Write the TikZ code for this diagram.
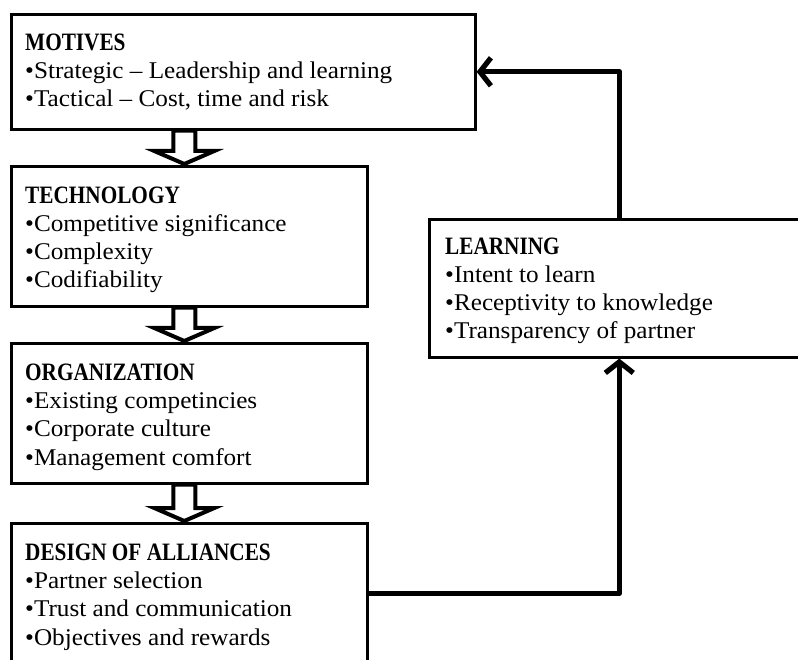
\documentclass[tikz,border=0pt]{standalone}
\usepackage{fontspec}
\setmainfont{Liberation Serif}[FakeStretch=1.05]
\newfontface\headfont{Liberation Serif Bold}[FakeStretch=0.85]
\newcommand\heading[1]{{\headfont\fontsize{25}{28.3}\selectfont #1}}
\usetikzlibrary{arrows.meta,calc,shadows}

% hollow block arrow pointing down from one box to the next
\newcommand\downblock[2]{%
  \draw[hollow] let \p1=(#1.south), \p2=(#2.north) in
    (\x2-16pt,\y1) -- (\x2-16pt,\y2+14pt) -- (\x2-35pt,\y2+14pt) --
    (\x2-5pt,\y2+1pt) -- (\x2+25pt,\y2+14pt) -- (\x2+6pt,\y2+14pt) --
    (\x2+6pt,\y1) -- cycle;}

\begin{document}
\begin{tikzpicture}[x=1pt,y=-1pt,
  box/.style={draw=black, line width=2.6pt, fill=white, rectangle,
    anchor=north west, inner sep=0pt,
    drop shadow={shadow xshift=1.5pt, shadow yshift=-1.5pt, opacity=0.2}},
  % multi-line text: the base anchor sits on the last line
  txt/.style={anchor=base west, inner sep=0pt, align=left,
    font=\fontsize{24}{28.3}\selectfont},
  hollow/.style={draw=black, fill=white, line width=4pt, line join=miter},
  feedback/.style={draw=black, line width=5.2pt, line join=round,
    -{Straight Barb[length=11pt,width=28pt]}}]
\useasboundingbox (0,0) rectangle (798,660);
\clip (0,0) rectangle (798,660);

% boxes
\node[box, minimum width=464pt, minimum height=115pt] (motives) at (10,13) {};
\node[box, minimum width=356pt, minimum height=140pt] (tech) at (10,165) {};
\node[box, minimum width=356pt, minimum height=140pt] (org) at (10,342) {};
\node[box, minimum width=356pt, minimum height=140pt] (design) at (10,522) {};
\node[box, minimum width=380pt, minimum height=138pt] (learning) at (428,218) {};

% box contents
\node[txt] (motivesText) at (25,107)
  {\heading{MOTIVES}\\•Strategic – Leadership and learning\\•Tactical – Cost, time and risk};
\node[txt] (techText) at (25,288)
  {\heading{TECHNOLOGY}\\•Competitive significance\\•Complexity\\•Codifiability};
\node[txt] (orgText) at (25,465)
  {\heading{ORGANIZATION}\\•Existing competincies\\•Corporate culture\\•Management comfort};
\node[txt] (designText) at (25,645)
  {\heading{DESIGN OF ALLIANCES}\\•Partner selection\\•Trust and communication\\•Objectives and rewards};
\node[txt] (learningText) at (445,339)
  {\heading{LEARNING}\\•Intent to learn\\•Receptivity to knowledge\\•Transparency of partner};

% flow down the chain
\downblock{motives}{tech}
\downblock{tech}{org}
\downblock{org}{design}

% feedback loop
\draw[feedback] (design.east) -| (learning.south);
\draw[feedback] (learning.north) |- (motives.east);
\end{tikzpicture}
\end{document}
